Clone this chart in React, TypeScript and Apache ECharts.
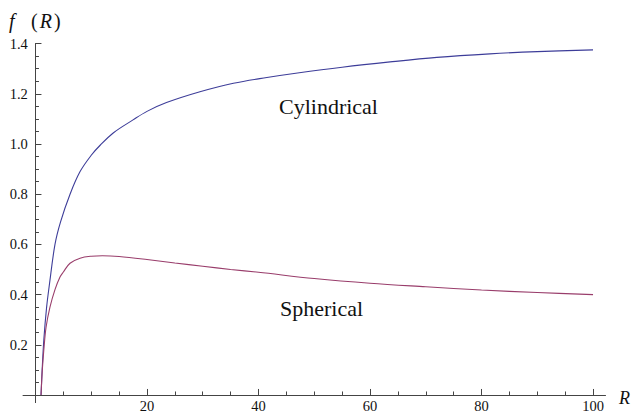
import React, { useEffect, useRef } from "react";
import * as echarts from "echarts";

// Cylindrical curve (R, f)
const rCyl = [1, 1.2, 1.5, 2, 2.5, 3.5, 4.5, 6.2, 8, 10, 11.6, 14, 17.5, 20, 23.5, 29.5, 35.5, 41.5, 47, 55, 63.6, 72, 81.5, 90, 100];
const fCyl = [0, 0.1, 0.22, 0.35, 0.44, 0.6, 0.69, 0.8, 0.89, 0.955, 0.995, 1.045, 1.096, 1.13, 1.165, 1.208, 1.242, 1.265, 1.283, 1.306, 1.327, 1.345, 1.359, 1.368, 1.375];

// Spherical curve (R, f)
const rSph = [1, 1.2, 1.5, 1.9, 2.6, 3.5, 4.4, 5, 6.2, 8, 10, 12, 15, 20, 25, 30, 35, 40, 50, 60, 70, 80, 90, 100];
const fSph = [0, 0.09, 0.18, 0.27, 0.35, 0.42, 0.47, 0.49, 0.525, 0.545, 0.553, 0.555, 0.552, 0.54, 0.526, 0.513, 0.5, 0.489, 0.464, 0.445, 0.431, 0.418, 0.408, 0.4];

// Ticks
const xMajor = [20, 40, 60, 80, 100];
const xMinor = [5, 10, 15, 25, 30, 35, 45, 50, 55, 65, 70, 75, 85, 90, 95];
const yMajor = [0.2, 0.4, 0.6, 0.8, 1.0, 1.2, 1.4];
const yMinor = [0.05, 0.1, 0.15, 0.25, 0.3, 0.35, 0.45, 0.5, 0.55, 0.65, 0.7, 0.75, 0.85, 0.9, 0.95, 1.05, 1.1, 1.15, 1.25, 1.3, 1.35];

const X_MIN = -2.2;
const X_MAX = 102.2;
const Y_MIN = -0.03;
const Y_MAX = 1.4;

const FONT = "Liberation Serif";
const AX = "#444";
const TXT = "#111";
const BLUE = "#3d3d99";
const PURPLE = "#993d6b";

const pairs = (xs: number[], ys: number[]) => xs.map((x, i) => [x, ys[i]]);

export default function App() {
  const ref = useRef<HTMLDivElement>(null);
  useEffect(() => {
    const chart = echarts.init(ref.current!, null, { renderer: "svg" });
    const lab = { fontSize: 14.5, fontFamily: FONT, color: TXT, lineHeight: 15 };
    chart.setOption({
      animation: false,
      backgroundColor: "#fff",
      textStyle: { fontFamily: FONT, color: TXT, fontSize: 15 },
      grid: {
        left: 23.2,
        right: 31.7,
        top: 43.6,
        bottom: 14.5,
        containLabel: false,
        outerBoundsMode: "none",
      },
      xAxis: [
        {
          type: "value",
          min: X_MIN,
          max: X_MAX,
          position: "bottom",
          splitLine: { show: false },
          axisLine: { show: true, onZero: true, lineStyle: { color: AX, width: 1 } },
          axisTick: { show: true, inside: true, length: 6, customValues: xMajor, lineStyle: { color: AX } },
          axisLabel: {
            show: true,
            customValues: xMajor,
            margin: 11,
            verticalAlign: "bottom",
            ...lab,
          },
        },
        {
          type: "value",
          min: X_MIN,
          max: X_MAX,
          position: "bottom",
          splitLine: { show: false },
          axisLine: { show: true, onZero: true, lineStyle: { color: AX, width: 1 } },
          axisTick: { show: true, inside: true, length: 3.5, customValues: xMinor, lineStyle: { color: AX } },
          axisLabel: { show: false },
        },
      ],
      yAxis: [
        {
          type: "value",
          min: Y_MIN,
          max: Y_MAX,
          position: "left",
          splitLine: { show: false },
          axisLine: { show: true, onZero: true, lineStyle: { color: AX, width: 1 } },
          axisTick: { show: true, inside: true, length: 6, customValues: yMajor, lineStyle: { color: AX } },
          axisLabel: {
            show: true,
            customValues: yMajor,
            margin: 13.5,
            align: "left",
            ...lab,
            formatter: (v: number) => v.toFixed(1),
          },
        },
        {
          type: "value",
          min: Y_MIN,
          max: Y_MAX,
          position: "left",
          splitLine: { show: false },
          axisLine: { show: true, onZero: true, lineStyle: { color: AX, width: 1 } },
          axisTick: { show: true, inside: true, length: 3.5, customValues: yMinor, lineStyle: { color: AX } },
          axisLabel: { show: false },
        },
      ],
      series: [
        {
          name: "Cylindrical",
          type: "line",
          data: pairs(rCyl, fCyl),
          showSymbol: false,
          smooth: 0.35,
          lineStyle: { color: BLUE, width: 1.1 },
          silent: true,
        },
        {
          name: "Spherical",
          type: "line",
          data: pairs(rSph, fSph),
          showSymbol: false,
          smooth: 0.35,
          lineStyle: { color: PURPLE, width: 1.1 },
          silent: true,
        },
      ],
      graphic: [
        {
          type: "text",
          x: 9,
          y: 21,
          style: { text: "f", fontSize: 20, fontStyle: "italic", fontFamily: FONT, fill: TXT, verticalAlign: "middle" },
        },
        {
          type: "text",
          x: 31,
          y: 21,
          style: {
            text: "{a|(}{b|R}{a|)}",
            fontSize: 20,
            fontFamily: FONT,
            fill: TXT,
            verticalAlign: "middle",
            rich: {
              a: { fontSize: 20, fontFamily: FONT, fill: TXT },
              b: { fontSize: 20, fontFamily: FONT, fontStyle: "italic", fill: TXT, padding: [0, 2, 0, 2] },
            },
          },
        },
        {
          type: "text",
          x: 619,
          y: 398,
          style: { text: "R", fontSize: 18, fontStyle: "italic", fontFamily: FONT, fill: TXT, verticalAlign: "middle" },
        },
        {
          type: "text",
          x: 279,
          y: 106,
          style: { text: "Cylindrical", fontSize: 22, fontFamily: FONT, fill: TXT, verticalAlign: "middle" },
        },
        {
          type: "text",
          x: 280,
          y: 308,
          style: { text: "Spherical", fontSize: 22, fontFamily: FONT, fill: TXT, verticalAlign: "middle" },
        },
      ],
    });
    return () => chart.dispose();
  }, []);
  return (
    <div
      ref={ref}
      style={{ position: "absolute", left: 0, top: 0, width: 637, height: 417 }}
    />
  );
}
